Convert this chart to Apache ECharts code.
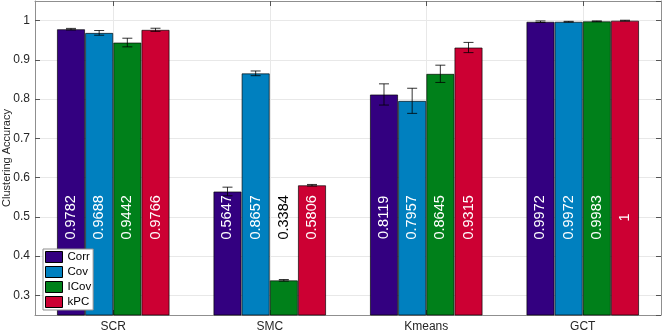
<!DOCTYPE html>
<html><head><meta charset="utf-8">
<script src="https://cdn.jsdelivr.net/npm/echarts@6/dist/echarts.min.js"></script>
<style>html,body{margin:0;padding:0;background:#fff}#c{width:664px;height:333px}</style>
</head><body><div id="c"></div>
<script>
// ---- data ----
const categories = ['SCR', 'SMC', 'Kmeans', 'GCT'];
const seriesNames = ['Corr', 'Cov', 'ICov', 'kPC'];
const corrVals = [0.9782, 0.5647, 0.8119, 0.9972];
const covVals  = [0.9688, 0.8657, 0.7957, 0.9972];
const icovVals = [0.9442, 0.3384, 0.8645, 0.9983];
const kpcVals  = [0.9766, 0.5806, 0.9315, 1];
const corrErr = [0.002, 0.011, 0.027, 0.002];
const covErr  = [0.006, 0.006, 0.032, 0.001];
const icovErr = [0.011, 0.002, 0.022, 0.001];
const kpcErr  = [0.004, 0.002, 0.013, 0.001];
const yMin = 0.25, yMax = 1.05;
const labelLevel = 0.5;

// ---- style ----
const colors = ['#330080', '#0080BF', '#00801A', '#CC0033'];
const FONT = '"Liberation Sans", Arial, Helvetica, sans-serif';
const GRID = {left: 35, right: 3, top: 1, bottom: 18, containLabel: false, outerBoundsMode: 'none'};
const CAT_GAP = 0.28;
const AXIS_COLOR = '#8f8f8f';
const TICK_COLOR = '#555';
const GRID_COLOR = '#e8e8e8';
const TEXT_COLOR = '#262626';

const allVals = [corrVals, covVals, icovVals, kpcVals];
const allErr = [corrErr, covErr, icovErr, kpcErr];

const chart = echarts.init(document.getElementById('c'), null, {renderer: 'canvas'});
const gridH = 333 - GRID.top - GRID.bottom;
const labelDist = (labelLevel - yMin) / (yMax - yMin) * gridH;

const topData = [];
for (let i = 0; i < categories.length * 2 + 1; i++) topData.push('_' + i);
const oddOnly = (i) => i % 2 === 1;

const series = [];
allVals.forEach((vals, k) => {
  series.push({
    name: seriesNames[k],
    type: 'bar',
    xAxisIndex: 0, yAxisIndex: 0,
    barGap: '0%',
    barCategoryGap: (CAT_GAP * 100) + '%',
    itemStyle: {color: colors[k], borderColor: 'rgba(0,0,0,0.65)', borderWidth: 1},
    label: {
      show: true, position: 'insideBottom', distance: labelDist, rotate: 90,
      align: 'center', verticalAlign: 'middle', fontSize: 14.5, fontFamily: FONT,
      color: '#fff', formatter: (p) => String(p.value)
    },
    data: vals.map(v => ({value: v, label: {color: v < labelLevel ? '#000' : '#fff'}})),
    z: 2
  });
});
allVals.forEach((vals, k) => {
  series.push({
    type: 'custom',
    xAxisIndex: 0, yAxisIndex: 0,
    z: 4, silent: true, clip: false,
    data: vals.map((v, i) => [i, v, allErr[k][i]]),
    renderItem: (params, api) => {
      const cat = api.value(0), v = api.value(1), e = api.value(2);
      const band = api.size([1, 0])[0];
      const bw = band * (1 - CAT_GAP) / 4;
      const c = api.coord([cat, v]);
      const x = c[0] + (k - 1.5) * bw;
      const yt = api.coord([cat, v + e])[1];
      const yb = api.coord([cat, v - e])[1];
      const hw = 5;
      const st = {stroke: '#000', lineWidth: 1, opacity: 0.8};
      return {type: 'group', children: [
        {type: 'line', shape: {x1: x, y1: yt, x2: x, y2: yb}, style: st},
        {type: 'line', shape: {x1: x - hw, y1: yt, x2: x + hw, y2: yt}, style: st},
        {type: 'line', shape: {x1: x - hw, y1: yb, x2: x + hw, y2: yb}, style: st}
      ]};
    }
  });
});

const yBase = {
  type: 'value', min: yMin, max: yMax, splitNumber: 8,
  axisLine: {show: true, lineStyle: {color: AXIS_COLOR}},
  axisTick: {show: true, inside: true, length: 5, lineStyle: {color: TICK_COLOR}}
};

chart.setOption({
  animation: false,
  backgroundColor: '#fff',
  textStyle: {fontFamily: FONT},
  grid: GRID,
  legend: {
    orient: 'vertical', left: 43, top: 249,
    padding: [2, 2, 2, 2], itemWidth: 17, itemHeight: 11, itemGap: 3,
    backgroundColor: '#fff', borderColor: AXIS_COLOR, borderWidth: 1,
    icon: 'rect',
    itemStyle: {borderColor: '#000', borderWidth: 1},
    textStyle: {fontSize: 11.5, color: '#000', lineHeight: 11, fontFamily: FONT},
    data: seriesNames
  },
  xAxis: [{
    type: 'category', data: categories, position: 'bottom',
    axisLine: {show: true, lineStyle: {color: AXIS_COLOR}},
    axisTick: {show: true, inside: true, alignWithLabel: true, length: 5, lineStyle: {color: TICK_COLOR}},
    axisLabel: {fontSize: 12, color: TEXT_COLOR, margin: 6, fontFamily: FONT},
    splitLine: {show: false}
  }, {
    type: 'category', data: topData, position: 'top', boundaryGap: false,
    axisLine: {show: true, lineStyle: {color: AXIS_COLOR}},
    axisTick: {show: true, inside: true, length: 5, interval: oddOnly, lineStyle: {color: TICK_COLOR}},
    axisLabel: {show: false},
    splitLine: {show: true, interval: oddOnly, lineStyle: {color: GRID_COLOR}}
  }],
  yAxis: [Object.assign({}, yBase, {
    position: 'left',
    name: 'Clustering Accuracy', nameLocation: 'middle', nameGap: 23, nameMoveOverlap: false,
    nameTextStyle: {fontSize: 11, color: TEXT_COLOR, fontFamily: FONT},
    axisLabel: {fontSize: 12, color: TEXT_COLOR, margin: 5, showMinLabel: false, showMaxLabel: false, fontFamily: FONT},
    splitLine: {show: true, lineStyle: {color: GRID_COLOR}}
  }), Object.assign({}, yBase, {
    position: 'right',
    axisLabel: {show: false},
    splitLine: {show: false}
  })],
  series: series
});
</script></body></html>
